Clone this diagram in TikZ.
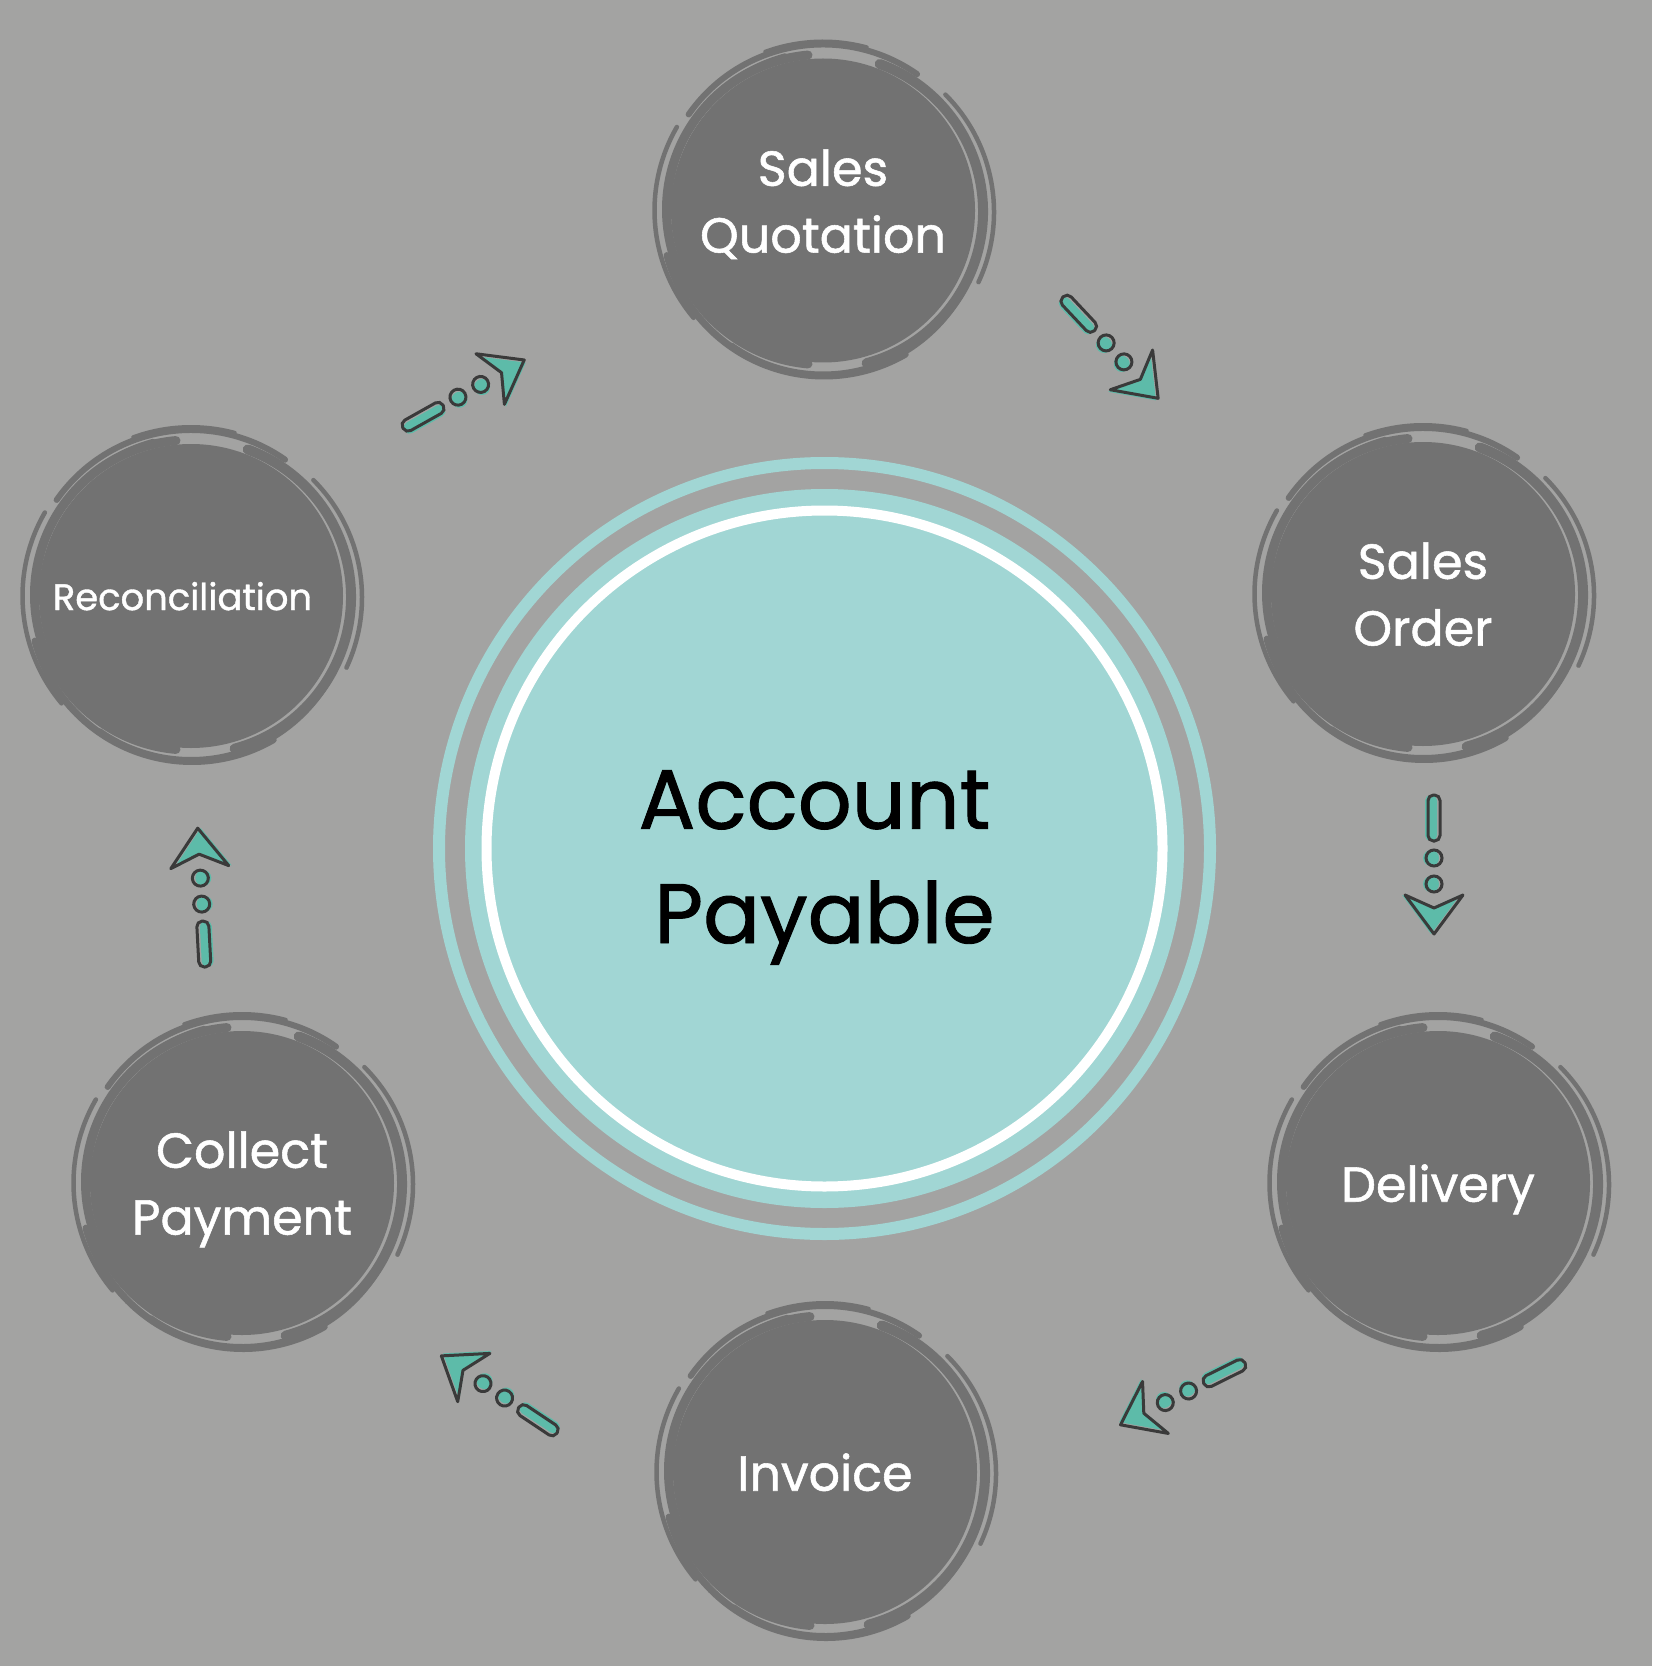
\documentclass[tikz,border=0pt]{standalone}
\usepackage{fontspec}
\setmainfont{Poppins}[FakeBold=1.1]
\usepackage{tikz}

\definecolor{paper}{HTML}{A3A3A2}
\definecolor{disc}{HTML}{727272}
\definecolor{hubteal}{HTML}{A1D6D4}
\definecolor{arrowteal}{HTML}{5DBBA9}
\definecolor{ink}{HTML}{3A3A3A}

% rough brush strokes round a stage disc
\newcommand{\brushring}[1]{%
  \foreach \rad/\sa/\ea/\lw/\dx/\dy in {3.10/95/265/0.18/-0.03/0.02, 3.28/55/145/0.12/0.00/0.04,
      3.34/150/220/0.09/-0.03/0.00, 3.14/-75/70/0.20/0.06/-0.02, 3.32/-25/45/0.09/0.10/-0.03,
      3.25/195/300/0.14/0.02/-0.06, 3.18/235/335/0.12/0.00/-0.10, 3.12/105/180/0.10/0.05/0.08,
      3.38/75/110/0.08/0.00/0.00}
    \draw[disc, line width=\lw cm, line cap=round]
      ([shift={(\dx,\dy)}]#1.center) ++(\sa:\rad) arc[start angle=\sa, end angle=\ea, radius=\rad];
}

% dash, two dots and a head, with a teal shadow
\newcommand{\flowarrow}[2]{%
  \begin{scope}[shift={(#1)}, rotate=#2]
    \begin{scope}[shift={(0,-0.06)}]
      \fill[arrowteal, rounded corners=0.11cm] (0,-0.12) rectangle (0.92,0.12);
      \fill[arrowteal] (1.26,0) circle (0.16) (1.78,0) circle (0.16);
      \fill[arrowteal] (2.78,0) -- (2.0,0.58) -- (2.26,0) -- (2.0,-0.58) -- cycle;
    \end{scope}
    \draw[ink, line width=0.06cm, rounded corners=0.11cm] (0,-0.12) rectangle (0.92,0.12);
    \draw[ink, line width=0.06cm] (1.26,0) circle (0.16) (1.78,0) circle (0.16);
    \draw[ink, line width=0.06cm, line join=round] (2.78,0) -- (2.0,0.58) -- (2.26,0) -- (2.0,-0.58) -- cycle;
  \end{scope}}

\begin{document}
\begin{tikzpicture}
\tikzstyle{stage}=[circle, fill=disc, minimum size=6.08cm, inner sep=0pt, align=center,
  text=white, font=\fontsize{28}{38}\selectfont, text depth=0pt];
\fill[paper] (0,0) rectangle (33.04,-33.32);
\useasboundingbox (0,0) rectangle (33.04,-33.32);
% hub
    \node[circle, fill=hubteal, minimum size=14.38cm, align=center,
      font=\fontsize{48}{65}\selectfont, text height=3.78cm, text depth=0pt] (hub) at (16.49,-16.97)
      {Account\hspace*{0.4cm}\\Payable};
    \draw[white, line width=0.2cm] (hub.center) circle (6.76);
    \draw[hubteal, line width=0.24cm] (hub.center) circle (7.71);
% stages
%   nodes
    \node[stage, text depth=0.38cm] (quote) at (16.46,-4.21) {Sales\\Quotation};
    \node[stage] (order) at (28.46,-11.88) {Sales\\Order};
    \node[stage] (delivery) at (28.76,-23.66) {Delivery};
    \node[stage] (invoice) at (16.50,-29.44) {Invoice};
    \node[stage] (collect) at (4.84,-23.66) {Collect\\Payment};
    \node[stage, font=\fontsize{21}{26}\selectfont] (recon) at (3.82,-11.92) {Reconciliation\hspace*{0.34cm}};
%   brush strokes
    \foreach \n in {quote,order,delivery,invoice,collect,recon} {\brushring{\n}}
% arrows
    \coordinate (a1) at (21.26,-5.94);
    \coordinate (a2) at (28.68,-15.90);
    \coordinate (a3) at (24.90,-27.26);
    \coordinate (a4) at (11.14,-28.66);
    \coordinate (a5) at (4.10,-19.34);
    \coordinate (a6) at (8.06,-8.56);
    \flowarrow{a1}{-46.8}
    \flowarrow{a2}{-90}
    \flowarrow{a3}{206.4}
    \flowarrow{a4}{146.3}
    \flowarrow{a5}{93}
    \flowarrow{a6}{29.3}
\end{tikzpicture}
\end{document}
